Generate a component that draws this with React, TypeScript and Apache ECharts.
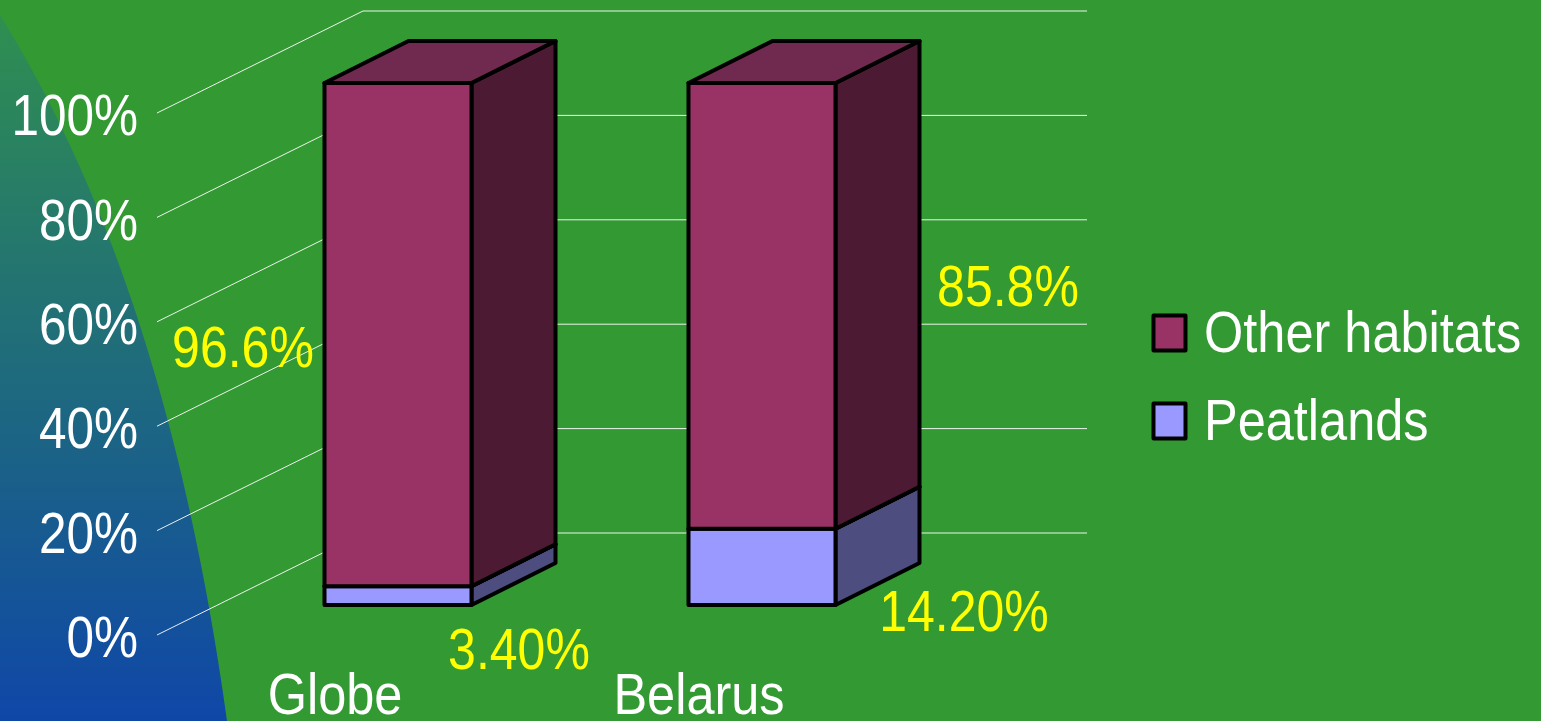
import React, { useEffect, useRef } from "react";
import * as echarts from "echarts";

const categories = ["Globe", "Belarus"];
const peatlands = [3.6, 14.6]; // band heights
const otherHabitats = [96.4, 85.4];
const peatLabels = ["3.40%", "14.20%"];
const otherLabels = ["96.6%", "85.8%"];
const yTicks = [0, 20, 40, 60, 80, 100];
const seriesNames = ["Other habitats", "Peatlands"];
const seriesColors = ["#993366", "#9999ff"];

const FONT = "'Liberation Sans', Arial, sans-serif";
const TEXT_STRETCH = 1.14;
const BAR_SHIFT = { x: 59, y: -30 };
const BAR_DEPTH = { x: 84, y: -42 };
const WALL_DEPTH = { x: 206, y: -102 };
const BAR_RATIO = 147 / 364;
const peatLabelOffset = [[121, 53], [202, 44]];
const otherLabelOffset = [[-155, 12], [246, -20]];

echarts.graphic.registerShape(
  "bgCurve",
  echarts.graphic.extendPath("M0,15 C90,160 180,380 227,721 L0,721 Z", {})
);

function barRenderer(colors: { front: string; top: string; side: string }, labels: string[], offsets: number[][]) {
  return (params: any, api: any) => {
    const cat = api.value(0);
    const from = api.coord([cat, api.value(1)]);
    const to = api.coord([cat, api.value(2)]);
    const w = api.size([1, 0])[0] * BAR_RATIO;
    const l = from[0] + BAR_SHIFT.x - w / 2;
    const r = l + w;
    const b = from[1] + BAR_SHIFT.y;
    const t = to[1] + BAR_SHIFT.y;
    const dx = BAR_DEPTH.x;
    const dy = BAR_DEPTH.y;
    const line = { stroke: "#000", lineWidth: 4, lineJoin: "round" };
    const mid = (b + t) / 2;
    return {
      type: "group",
      children: [
        {
          type: "polygon",
          shape: { points: [[r, b], [r + dx, b + dy], [r + dx, t + dy], [r, t]] },
          style: { fill: colors.side, ...line },
        },
        {
          type: "polygon",
          shape: { points: [[l, t], [r, t], [r + dx, t + dy], [l + dx, t + dy]] },
          style: { fill: colors.top, ...line },
        },
        {
          type: "rect",
          shape: { x: l, y: t, width: w, height: b - t },
          style: { fill: colors.front, ...line },
        },
        {
          type: "text",
          x: l + w / 2 + offsets[cat][0],
          y: mid + offsets[cat][1],
          scaleY: TEXT_STRETCH,
          style: {
            text: labels[cat],
            fill: "#ffff00",
            font: `50px ${FONT}`,
            textAlign: "center",
            textVerticalAlign: "middle",
          },
        },
      ],
    };
  };
}

function legendItem(i: number) {
  const rowY = 88 * i;
  return [
    {
      type: "rect",
      shape: { x: 1153.5, y: 315.5 + rowY, width: 32, height: 35 },
      style: { fill: seriesColors[i], stroke: "#000", lineWidth: 4, lineJoin: "round" },
    },
    {
      type: "text",
      x: 1204,
      y: 332 + rowY,
      scaleY: TEXT_STRETCH,
      style: {
        text: seriesNames[i],
        fill: "#fff",
        font: `50.5px ${FONT}`,
        textAlign: "left",
        textVerticalAlign: "middle",
      },
    },
  ];
}

export default function App() {
  const ref = useRef<HTMLDivElement>(null);
  useEffect(() => {
    document.body.style.margin = "0";
    document.body.style.overflow = "hidden";
    const chart = echarts.init(ref.current!, null, { renderer: "svg" });
    chart.setOption({
      animation: false,
      backgroundColor: "#339933",
      grid: { left: 157, top: 113, width: 728, height: 522 },
      graphic: [
        {
          type: "bgCurve",
          x: 0,
          y: 0,
          z: -10,
          silent: true,
          style: {
            fill: new echarts.graphic.LinearGradient(0, 0, 0, 1, [
              { offset: 0, color: "#2f8f50" },
              { offset: 1, color: "#0f47a8" },
            ]),
          },
        },
        ...legendItem(0),
        ...legendItem(1),
      ],
      xAxis: {
        type: "category",
        data: categories,
        axisLine: { show: false },
        axisTick: { show: false },
        splitLine: { show: false },
        axisLabel: { show: false },
      },
      yAxis: {
        type: "value",
        min: 0,
        max: 100,
        interval: 20,
        splitLine: { show: false },
        axisLine: { show: false },
        axisTick: { show: false },
        axisLabel: { show: false },
      },
      series: [
        {
          type: "custom",
          name: "walls",
          z: 1,
          silent: true,
          data: yTicks.map((v) => [v]),
          encode: { y: 0 },
          renderItem: (params: any, api: any) => {
            const cs = params.coordSys;
            const v = api.value(0);
            const y = api.coord([0, v])[1];
            const x0 = cs.x;
            const x1 = cs.x + WALL_DEPTH.x;
            const x2 = x1 + cs.width - 4;
            const y1 = y + WALL_DEPTH.y;
            return {
              type: "group",
              children: [
                {
                  type: "polyline",
                  shape: { points: [[x0, y], [x1, y1], [x2, y1]] },
                  style: { stroke: "#ffffff", lineWidth: 1, fill: "none", opacity: 0.9 },
                },
                {
                  type: "text",
                  x: x0 - 19,
                  y: y + 2.5,
                  scaleY: TEXT_STRETCH,
                  style: {
                    text: `${v}%`,
                    fill: "#fff",
                    font: `49.5px ${FONT}`,
                    textAlign: "right",
                    textVerticalAlign: "middle",
                  },
                },
              ],
            };
          },
        },
        {
          type: "custom",
          name: "categoryLabels",
          z: 1,
          silent: true,
          data: categories.map((_, i) => [i]),
          encode: { x: 0 },
          renderItem: (params: any, api: any) => {
            const p = api.coord([api.value(0), 0]);
            return {
              type: "text",
              x: p[0] - 4,
              y: p[1] + 59,
              scaleY: TEXT_STRETCH,
              style: {
                text: categories[api.value(0)],
                fill: "#fff",
                font: `50.5px ${FONT}`,
                lineHeight: 44,
                textAlign: "center",
                textVerticalAlign: "middle",
              },
            };
          },
        },
        {
          type: "custom",
          name: seriesNames[1],
          z: 2,
          data: categories.map((_, i) => [i, 0, peatlands[i]]),
          encode: { x: 0, y: [1, 2] },
          renderItem: barRenderer({ front: "#9999ff", top: "#70294f", side: "#4d4d80" }, peatLabels, peatLabelOffset),
        },
        {
          type: "custom",
          name: seriesNames[0],
          z: 3,
          data: categories.map((_, i) => [i, peatlands[i], peatlands[i] + otherHabitats[i]]),
          encode: { x: 0, y: [1, 2] },
          renderItem: barRenderer({ front: "#993366", top: "#70294f", side: "#4d1a33" }, otherLabels, otherLabelOffset),
        },
      ],
    });
    return () => chart.dispose();
  }, []);
  return <div ref={ref} style={{ width: 1541, height: 721 }} />;
}
